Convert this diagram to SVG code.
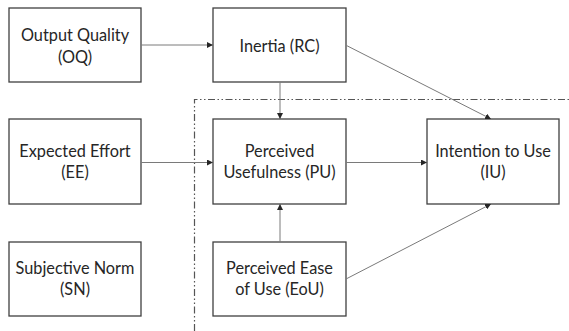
<svg xmlns="http://www.w3.org/2000/svg" width="569" height="331" viewBox="0 0 569 331">
<style>
.box{fill:#fff;stroke:#404040;stroke-width:1.3}
.lbl{font-family:Lato,"Open Sans","Liberation Sans",sans-serif;font-size:16.3px;fill:#262626;text-anchor:middle}
.con{stroke:#7a7a7a;stroke-width:1;fill:none;marker-end:url(#ah)}
.frame{stroke:#555;stroke-width:1.2;fill:none;stroke-dasharray:7 2.5 1.5 2.5 1.5 2.5}
</style>
<defs>
<marker id="ah" viewBox="0 0 6 6" refX="6" refY="3" markerWidth="6" markerHeight="6" markerUnits="userSpaceOnUse" orient="auto">
<path d="M0,0 L6,3 L0,6 z" fill="#262626"/>
</marker>
</defs>
<rect width="569" height="331" fill="#fff"/>
<path class="frame" d="M194.5,331 V99.5 H569"/>
<g id="OQ"><rect class="box" x="9" y="8" width="132" height="74"/><text class="lbl" x="75" y="41">Output Quality</text><text class="lbl" x="75" y="63">(OQ)</text></g>
<g id="RC"><rect class="box" x="213" y="8" width="133" height="74"/><text class="lbl" x="279.5" y="52">Inertia (RC)</text></g>
<g id="EE"><rect class="box" x="9" y="119" width="132" height="85"/><text class="lbl" x="75" y="157">Expected Effort</text><text class="lbl" x="75" y="178">(EE)</text></g>
<g id="PU"><rect class="box" x="213" y="119" width="133" height="85"/><text class="lbl" x="279.5" y="157">Perceived</text><text class="lbl" x="279.5" y="178">Usefulness (PU)</text></g>
<g id="IU"><rect class="box" x="427" y="119" width="132" height="85"/><text class="lbl" x="493" y="157">Intention to Use</text><text class="lbl" x="493" y="178">(IU)</text></g>
<g id="SN"><rect class="box" x="9" y="242" width="132" height="74"/><text class="lbl" x="75" y="274">Subjective Norm</text><text class="lbl" x="75" y="295">(SN)</text></g>
<g id="EoU"><rect class="box" x="213" y="242" width="133" height="74"/><text class="lbl" x="279.5" y="274">Perceived Ease</text><text class="lbl" x="279.5" y="295">of Use (EoU)</text></g>
<g id="connectors">
<path class="con" d="M141,45 H213"/>
<path class="con" d="M141,162.5 H213"/>
<path class="con" d="M346,162.5 H427"/>
<path class="con" d="M280,82 V119"/>
<path class="con" d="M280,242 V204"/>
<path class="con" d="M346.5,45.5 L491,119"/>
<path class="con" d="M346,279 L491,204"/>
</g>
</svg>
